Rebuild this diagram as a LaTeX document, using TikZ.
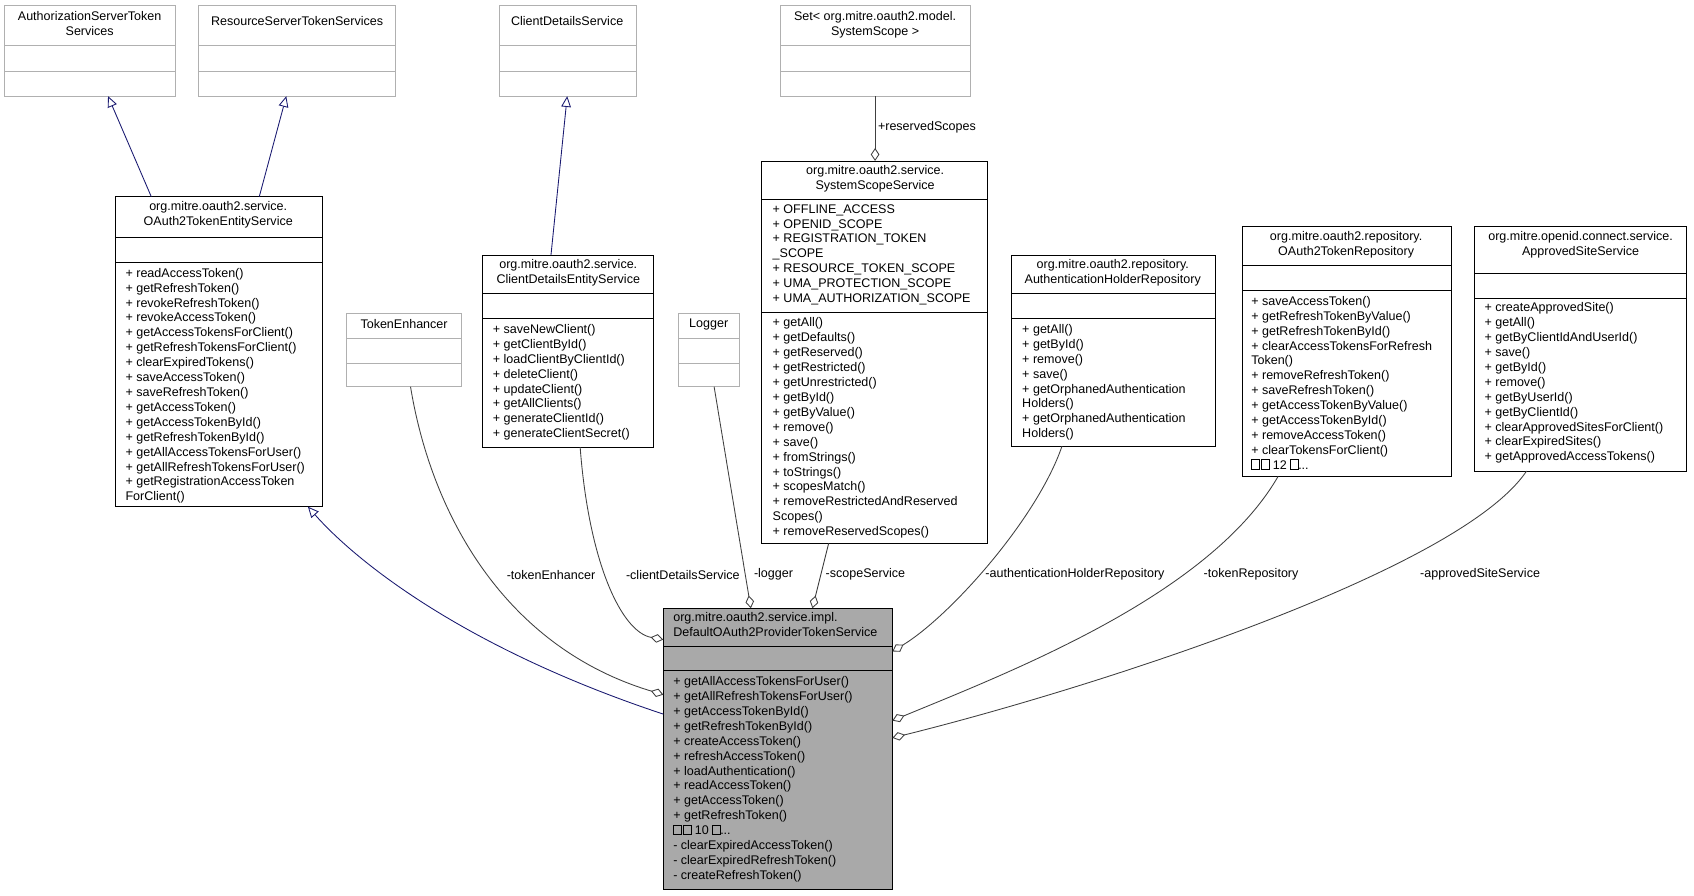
\documentclass[tikz,border=0pt]{standalone}
\usepackage{fontspec}
\setmainfont{Liberation Sans}
\usetikzlibrary{arrows.meta}
\definecolor{navy}{HTML}{191970}
\definecolor{edg}{HTML}{404040}
\definecolor{lg}{HTML}{B0B0B0}
\newcommand\sq{\tikz[baseline=0pt]\draw[line width=0.4pt](0,0) rectangle (7pt,9pt);}
\newcommand\cbox[9]{%
 \node[draw=#8,fill=#9,line width=0.8pt,anchor=north west,inner sep=0,outer sep=0,minimum width={#4-#2},minimum height={#5-#3}] (#1) at (#2,-#3) {};
 \draw[#8,line width=0.8pt] (#2,-#6) -- (#4,-#6) (#2,-#7) -- (#4,-#7);}
\begin{document}
\begin{tikzpicture}[x=1pt,y=1pt,
 every node/.style={font=\fontsize{11.6}{13.8}\selectfont},
 ttl/.style={align=center,inner sep=0,anchor=north},
 mem/.style={align=left,inner sep=0,anchor=north west},
 inh/.style={navy,line width=0.8pt,-{Triangle[open,length=10pt,width=9pt]}},
 agg/.style={edg,line width=0.8pt,-{Diamond[open,length=12pt,width=8pt]}},
 lbl/.style={inner sep=1pt}]
\useasboundingbox (0,0) rectangle (1568,-829);
% top boxes
\cbox{asts}{4}{5}{162}{89}{42}{66}{lg}{white}
\node[ttl] (t1) at (83,-10) {AuthorizationServerToken\\Services};
\cbox{rsts}{184}{5}{366}{89}{42}{66}{lg}{white}
\node[ttl] (t2) at (275,-15) {ResourceServerTokenServices};
\cbox{cds}{462}{5}{589}{89}{42}{66}{lg}{white}
\node[ttl] (t3) at (525,-15) {ClientDetailsService};
\cbox{set}{722}{5}{898}{89}{42}{66}{lg}{white}
\node[ttl] (t4) at (810,-10) {Set< org.mitre.oauth2.model.\\SystemScope >};
% OAuth2TokenEntityService
\cbox{ent}{107}{182}{298}{469}{220}{243}{black}{white}
\node[ttl] (t5) at (202,-186) {org.mitre.oauth2.service.\\OAuth2TokenEntityService};
\node[mem] (m5) at (116,-248) {+ readAccessToken()\\+ getRefreshToken()\\+ revokeRefreshToken()\\+ revokeAccessToken()\\+ getAccessTokensForClient()\\+ getRefreshTokensForClient()\\+ clearExpiredTokens()\\+ saveAccessToken()\\+ saveRefreshToken()\\+ getAccessToken()\\+ getAccessTokenById()\\+ getRefreshTokenById()\\+ getAllAccessTokensForUser()\\+ getAllRefreshTokensForUser()\\+ getRegistrationAccessToken\\ForClient()};
\cbox{te}{321}{290}{427}{358}{313}{336}{lg}{white}
\node[ttl] (t6) at (374,-295) {TokenEnhancer};
\cbox{ces}{447}{236}{605}{414}{272}{295}{black}{white}
\node[ttl] (t7) at (526,-240) {org.mitre.oauth2.service.\\ClientDetailsEntityService};
\node[mem] (m7) at (456,-300) {+ saveNewClient()\\+ getClientById()\\+ loadClientByClientId()\\+ deleteClient()\\+ updateClient()\\+ getAllClients()\\+ generateClientId()\\+ generateClientSecret()};
\cbox{log}{628}{290}{684}{358}{313}{336}{lg}{white}
\node[ttl] (t8) at (656,-295) {Logger};
\cbox{sss}{705}{149}{914}{503}{185}{289}{black}{white}
\node[ttl] (t9) at (810,-153) {org.mitre.oauth2.service.\\SystemScopeService};
\node[mem] (a9) at (715,-189) {+ OFFLINE\_ACCESS\\+ OPENID\_SCOPE\\+ REGISTRATION\_TOKEN\\\_SCOPE\\+ RESOURCE\_TOKEN\_SCOPE\\+ UMA\_PROTECTION\_SCOPE\\+ UMA\_AUTHORIZATION\_SCOPE};
\node[mem] (m9) at (715,-294) {+ getAll()\\+ getDefaults()\\+ getReserved()\\+ getRestricted()\\+ getUnrestricted()\\+ getById()\\+ getByValue()\\+ remove()\\+ save()\\+ fromStrings()\\+ toStrings()\\+ scopesMatch()\\+ removeRestrictedAndReserved\\Scopes()\\+ removeReservedScopes()};
\cbox{ahr}{936}{236}{1125}{413}{272}{295}{black}{white}
\node[ttl] (t10) at (1030,-240) {org.mitre.oauth2.repository.\\AuthenticationHolderRepository};
\node[mem] (m10) at (946,-300) {+ getAll()\\+ getById()\\+ remove()\\+ save()\\+ getOrphanedAuthentication\\Holders()\\+ getOrphanedAuthentication\\Holders()};
\cbox{otr}{1150}{210}{1343}{441}{246}{269}{black}{white}
\node[ttl] (t11) at (1246,-214) {org.mitre.oauth2.repository.\\OAuth2TokenRepository};
\node[mem] (m11) at (1158,-274) {+ saveAccessToken()\\+ getRefreshTokenByValue()\\+ getRefreshTokenById()\\+ clearAccessTokensForRefresh\\Token()\\+ removeRefreshToken()\\+ saveRefreshToken()\\+ getAccessTokenByValue()\\+ getAccessTokenById()\\+ removeAccessToken()\\+ clearTokensForClient()\\\sq\,\sq{} 12 \sq...};
\cbox{ass}{1365}{210}{1561}{436}{253}{276}{black}{white}
\node[ttl] (t12) at (1463,-214) {org.mitre.openid.connect.service.\\ApprovedSiteService};
\node[mem] (m12) at (1374,-280) {+ createApprovedSite()\\+ getAll()\\+ getByClientIdAndUserId()\\+ save()\\+ getById()\\+ remove()\\+ getByUserId()\\+ getByClientId()\\+ clearApprovedSitesForClient()\\+ clearExpiredSites()\\+ getApprovedAccessTokens()};
% main
\cbox{main}{614}{563}{826}{823}{598}{621}{black}{lg!85!gray}
\node[mem] (t13) at (623,-567) {org.mitre.oauth2.service.impl.\\DefaultOAuth2ProviderTokenService};
\node[mem] (m13) at (623,-626) {+ getAllAccessTokensForUser()\\+ getAllRefreshTokensForUser()\\+ getAccessTokenById()\\+ getRefreshTokenById()\\+ createAccessToken()\\+ refreshAccessToken()\\+ loadAuthentication()\\+ readAccessToken()\\+ getAccessToken()\\+ getRefreshToken()\\\sq\,\sq{} 10 \sq...\\- clearExpiredAccessToken()\\- clearExpiredRefreshToken()\\- createRefreshToken()};
% inheritance
\draw[inh] ([xshift=33]ent.north west) -- ([xshift=96]asts.south west);
\draw[inh] ([xshift=133]ent.north west) -- ([xshift=81]rsts.south west);
\draw[inh] ([xshift=63]ces.north west) -- ([xshift=63]cds.south west);
\draw[inh] ([yshift=-98]main.north west) .. controls (430,-600) and (330,-520) .. ([xshift=178]ent.south west);
% aggregation
\draw[agg] ([xshift=88]set.south west) -- ([xshift=105]sss.north west);
\node[lbl] (l0) at (858,-118) {+reservedScopes};
\draw[agg] ([xshift=59]te.south west) .. controls (400,-480) and (470,-600) .. ([yshift=-80]main.north west);
\node[lbl] (l1) at (510,-532) {-tokenEnhancer};
\draw[agg] ([xshift=90]ces.south west) .. controls (545,-520) and (575,-585) .. ([yshift=-29]main.north west);
\node[lbl] (l2) at (632,-532) {-clientDetailsService};
\draw[agg] ([xshift=33]log.south west) -- ([xshift=81]main.north west);
\node[lbl] (l3) at (716,-532) {-logger};
\draw[agg] ([xshift=62]sss.south west) -- ([xshift=138]main.north west);
\node[lbl] (l4) at (801,-532) {-scopeService};
\draw[agg] ([xshift=47]ahr.south west) .. controls (960,-480) and (880,-570) .. ([yshift=-40]main.north east);
\node[lbl] (l5) at (995,-532) {-authenticationHolderRepository};
\draw[agg] ([xshift=33]otr.south west) .. controls (1120,-550) and (940,-620) .. ([yshift=-104]main.north east);
\node[lbl] (l6) at (1158,-532) {-tokenRepository};
\draw[agg] ([xshift=48]ass.south west) .. controls (1350,-530) and (1000,-640) .. ([yshift=-120]main.north east);
\node[lbl] (l7) at (1370,-532) {-approvedSiteService};
\end{tikzpicture}
\end{document}
